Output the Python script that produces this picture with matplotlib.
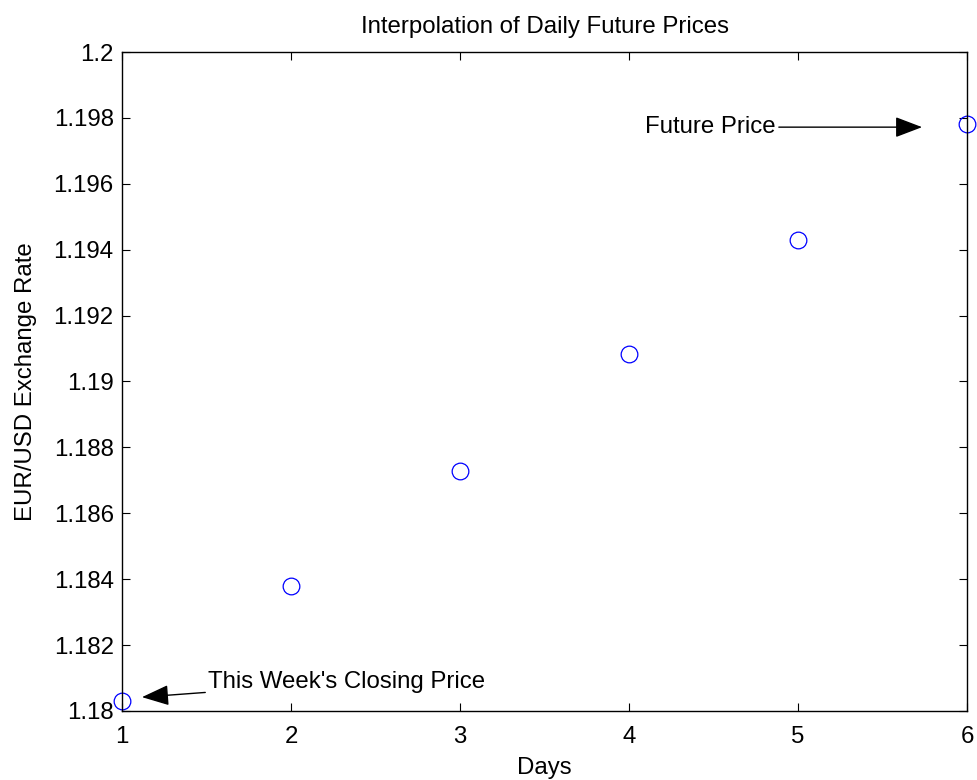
import matplotlib
matplotlib.use('Agg')
import matplotlib.pyplot as plt
from matplotlib.ticker import FormatStrFormatter

# data
days = [1, 2, 3, 4, 5, 6]
rates = [1.18030, 1.18379, 1.18728, 1.19083, 1.19429, 1.19781]
y_ticks = [1.18, 1.182, 1.184, 1.186, 1.188, 1.19, 1.192, 1.194, 1.196, 1.198, 1.2]

plt.rcParams['font.family'] = ['Liberation Sans', 'DejaVu Sans']
fs = 17.3

fig = plt.figure(figsize=(9.77, 7.8), dpi=100)
ax = fig.add_axes([0.1249, 0.0885, 0.8649, 0.8448])

ax.plot(days, rates, 'o', mfc='none', mec='blue', ms=12, mew=0.9, clip_on=False)

ax.set_xlim(1, 6)
ax.set_ylim(1.18, 1.2)
ax.set_xticks(days)
ax.set_yticks(y_ticks)
ax.yaxis.set_major_formatter(FormatStrFormatter('%g'))
ax.tick_params(direction='in', top=True, right=True, length=6, width=0.8,
               labelsize=fs)
ax.tick_params(axis='x', pad=11)
ax.tick_params(axis='y', pad=6)
for s in ax.spines.values():
    s.set_linewidth(1.0)

ax.set_title('Interpolation of Daily Future Prices', fontsize=fs, pad=14)
ax.set_xlabel('Days', fontsize=fs, labelpad=6)
ax.set_ylabel('EUR/USD Exchange Rate', fontsize=fs, labelpad=12)

arrow = dict(arrowstyle='-|>,head_length=0.42,head_width=0.16', color='black',
             lw=1.0, mutation_scale=40, shrinkA=0, shrinkB=0)
ax.annotate("This Week's Closing Price", xy=(1.118, 1.18042),
            xytext=(1.509, 1.18088), fontsize=fs, ha='left', va='center',
            arrowprops=arrow)
ax.annotate('Future Price', xy=(5.734, 1.19772), xytext=(4.87, 1.19772),
            fontsize=fs, ha='right', va='center', arrowprops=arrow)

plt.savefig('out.png', dpi=100)
